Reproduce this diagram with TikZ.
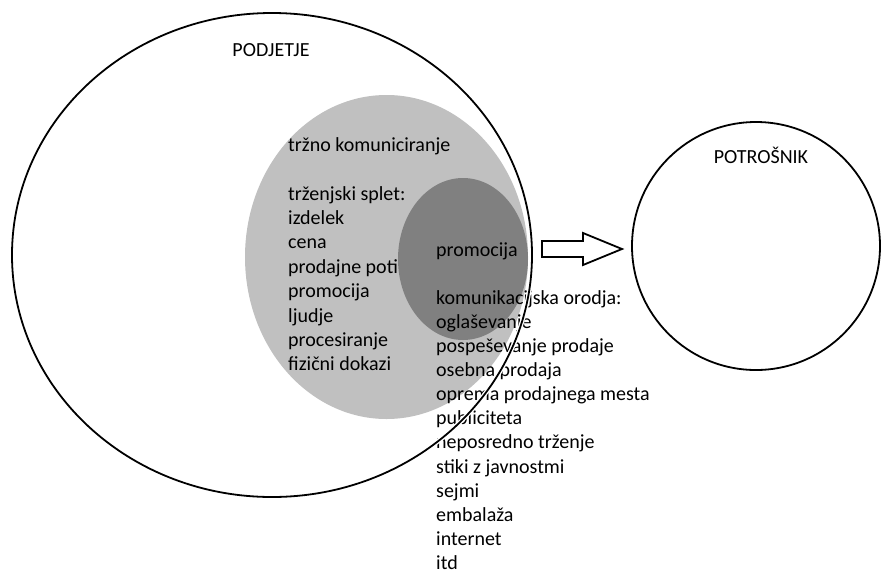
\documentclass[tikz,border=0pt]{standalone}
\usepackage{fontspec}
\setmainfont{Carlito}
\usetikzlibrary{shapes.geometric}
\definecolor{lightfill}{RGB}{192,192,192}
\definecolor{darkfill}{RGB}{128,128,128}
\begin{document}
\begin{tikzpicture}[x=1pt,y=-1pt,
  lbl/.style={font=\fontsize{20}{24}\selectfont, inner sep=0pt, anchor=mid west},
  ttl/.style={font=\fontsize{20}{24}\selectfont, inner sep=0pt, anchor=mid},
  outl/.style={ellipse, draw=black, line width=1.8pt, inner sep=0pt},
  blob/.style={ellipse, draw=none, inner sep=0pt},
  blockarrow/.style={draw=black, line width=1.8pt, fill=white, line join=miter}
]
\useasboundingbox (0,0) rectangle (881,574);
\fill[white] (0,0) rectangle (881,574);
% grey areas
\node[blob, fill=lightfill, minimum width=283pt, minimum height=324pt] (trzno) at (386.5,257) {};
\node[blob, fill=darkfill, minimum width=130pt, minimum height=162pt] (promo) at (463,259) {};
% texts
\node[ttl] (podjetjeT) at (271,54) {PODJETJE};
\node[ttl] (potrosnikT) at (761,161) {POTROŠNIK};
\node[lbl] (trznoT) at (288,149) {tržno komuniciranje};
\foreach \t [count=\i] in {trženjski splet:, izdelek, cena, prodajne poti, promocija, ljudje, procesiranje, fizični dokazi}
  \node[lbl] (ts\i) at ({288},{197.8+24.4*(\i-1)}) {\t};
\node[lbl] (promoT) at (436,254) {promocija};
\foreach \t [count=\i] in {komunikacijska orodja:, oglaševanje, pospeševanje prodaje, osebna prodaja, oprema prodajnega mesta, publiciteta, neposredno trženje, stiki z javnostmi, sejmi, embalaža, internet, itd}
  \node[lbl] (ko\i) at ({436},{302+24.1*(\i-1)}) {\t};
% outlines
\node[outl, minimum width=520pt, minimum height=484pt,
      preaction={draw=white, line width=4.5pt}] (podjetje) at (272,255) {};
\node[outl, minimum width=248pt, minimum height=248pt] (potrosnik) at (756,246) {};
% block arrow
\draw[blockarrow] (542,241) -- (583,241) -- (583,233) -- (622,249) -- (583,265) -- (583,257) -- (542,257) -- cycle;
\end{tikzpicture}
\end{document}
